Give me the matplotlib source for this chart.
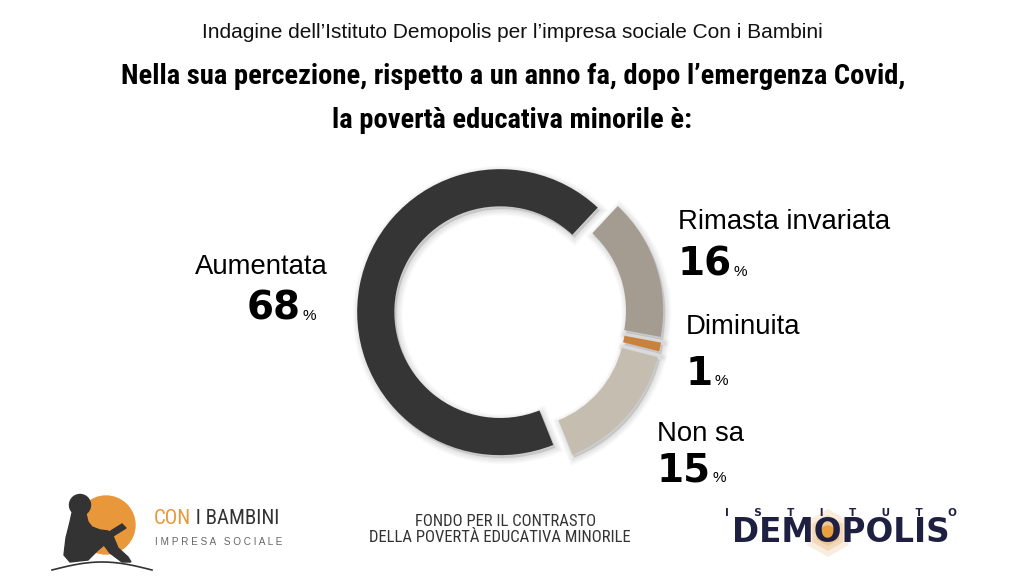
import matplotlib
matplotlib.use("Agg")
import matplotlib.pyplot as plt
import matplotlib.patches as mpatches
from matplotlib import font_manager
from matplotlib.font_manager import FontProperties
import numpy as np

# ---- data ----
categories = ["Rimasta invariata", "Diminuita", "Non sa", "Aumentata"]
values = [16, 1, 15, 68]
value_labels = ["16", "1", "15", "68"]
colors = ["#a49c90", "#c8823e", "#c5beb0", "#353535"]

subtitle = "Indagine dell\u2019Istituto Demopolis per l\u2019impresa sociale Con i Bambini"
title_lines = ["Nella sua percezione, rispetto a un anno fa, dopo l\u2019emergenza Covid,",
               "la povert\u00e0 educativa minorile \u00e8:"]
footer_lines = ["FONDO PER IL CONTRASTO", "DELLA POVERT\u00c0 EDUCATIVA MINORILE"]

avail = {f.name for f in font_manager.fontManager.ttflist}
def pick(*names):
    for n in names:
        if n in avail:
            return n
    return "DejaVu Sans"

SANS = pick("Liberation Sans", "Arimo", "DejaVu Sans")
NARROW = pick("Liberation Sans Narrow", "Roboto Condensed", "Open Sans Condensed", "Liberation Sans")
HEAVY = "DejaVu Sans"

W, H = 1024, 576
fig = plt.figure(figsize=(W / 100, H / 100), dpi=100)
fig.patch.set_facecolor("white")

ov = fig.add_axes([0, 0, 1, 1])
ov.set_xlim(0, W)
ov.set_ylim(H, 0)
ov.axis("off")

# ---- donut ----
cx, cy, R = 510, 314, 143
half = 200
pax = fig.add_axes([(cx - half) / W, (H - cy - half) / H, 2 * half / W, 2 * half / H])
explode = [0.075, 0.075, 0.085, 0.07]
wedges, _ = pax.pie(values, colors=colors, startangle=47, counterclock=False,
                    explode=explode, radius=1.0,
                    wedgeprops=dict(width=0.26, linewidth=0))
for w in wedges:
    w.set_zorder(3)
    for k in range(1, 7):
        s = mpatches.Shadow(w, 0.01, -0.014, facecolor="#000000", edgecolor="#000000",
                            linewidth=k * 1.5, alpha=0.018, zorder=1)
        pax.add_patch(s)
lim = half / R
pax.set_xlim(-lim, lim)
pax.set_ylim(-lim, lim)
pax.set_aspect("equal")
pax.axis("off")

# ---- titles ----
ov.text(512, 32, subtitle, ha="center", va="center", fontsize=15,
        family=SANS, color="#111111")
ov.text(513, 76, title_lines[0], ha="center", va="center", fontsize=20.5,
        family=NARROW, weight="bold", color="#000000")
ov.text(512, 120, title_lines[1], ha="center", va="center", fontsize=20.5,
        family=NARROW, weight="bold", color="#000000")

# ---- labels ----
label_pos = {
    "Rimasta invariata": (678, 222, "left"),
    "Diminuita": (686, 327, "left"),
    "Non sa": (657, 434, "left"),
    "Aumentata": (328, 267, "right"),
}
value_pos = {
    "Rimasta invariata": (678, 276),
    "Diminuita": (686, 385),
    "Non sa": (657, 482),
    "Aumentata": (247, 320),
}
num_texts = []
for cat, vl in zip(categories, value_labels):
    x, y, ha = label_pos[cat]
    ov.text(x, y, cat, ha=ha, va="center", fontsize=19.8, family=SANS, color="#000000")
    vx, vy = value_pos[cat]
    t = ov.text(vx, vy, vl, ha="left", va="baseline", fontsize=28, family=HEAVY,
                weight="heavy", color="#000000")
    num_texts.append((t, vy))

fig.canvas.draw()
inv = ov.transData.inverted()
for t, vy in num_texts:
    bb = t.get_window_extent()
    xr = inv.transform((bb.x1, bb.y0))[0]
    ov.text(xr + 1.5, vy, "%", ha="left", va="baseline", fontsize=11, family=SANS,
            color="#000000")

# ---- footer ----
ov.text(506, 521, footer_lines[0], ha="center", va="center", fontsize=12,
        family=NARROW, color="#333333")
ov.text(500, 538, footer_lines[1], ha="center", va="center", fontsize=12,
        family=NARROW, color="#333333")

# Con i Bambini logo
dark = "#333333"
ov.add_patch(mpatches.Circle((106, 525), 29, color="#e8973a", zorder=2))
ov.add_patch(mpatches.Ellipse((80, 505), 21, 21, color=dark, zorder=3))
body = [(72, 513), (86, 514), (88, 522), (92, 527), (100, 530), (108, 531),
        (113, 536), (118, 548), (128, 557), (131, 562), (122, 562), (110, 553),
        (104, 545), (98, 550), (88, 560), (70, 562), (64, 555), (66, 538), (70, 522)]
ov.add_patch(mpatches.Polygon(body, closed=True, color=dark, zorder=3))
book = [(106, 534), (122, 524), (126, 528), (110, 538)]
ov.add_patch(mpatches.Polygon(book, closed=True, color=dark, zorder=3))
tt = np.linspace(0, 1, 50)
ov.plot(52 + 100 * tt, 570 - 8 * np.sin(np.pi * tt), color=dark, lw=1.2, zorder=3)
t1 = ov.text(154, 519, "CON", ha="left", va="center", fontsize=15, family=NARROW,
             color="#e8973a")
ov.annotate(" I BAMBINI", xycoords=t1, xy=(1, 0.5), xytext=(0, 0), textcoords="offset points",
            ha="left", va="center", fontsize=15, family=NARROW, color="#333333")
ov.text(155, 542, "I M P R E S A   S O C I A L E", ha="left", va="center", fontsize=7.2,
        family=SANS, color="#666666")

# Demopolis logo
navy = "#1f2041"
demo_fs = 23.5
fp = FontProperties(family=HEAVY, weight="heavy", size=demo_fs)
rend = fig.canvas.get_renderer()
w_all = rend.get_text_width_height_descent("DEMOPOLIS", fp, ismath=False)[0]
w_dem = rend.get_text_width_height_descent("DEM", fp, ismath=False)[0]
w_o = rend.get_text_width_height_descent("O", fp, ismath=False)[0]
dcx = 841
ox = dcx - w_all / 2 + w_dem + w_o / 2
oy = 533
ang = np.linspace(0, 2 * np.pi, 7)[:-1] + np.pi / 6
for rr, a in [(24, 0.22), (18, 0.32), (13, 0.45)]:
    ov.add_patch(mpatches.Polygon(np.c_[ox + rr * np.cos(ang), oy + rr * np.sin(ang)],
                                  closed=True, color="#e8b070", alpha=a, lw=0, zorder=2))
ov.add_patch(mpatches.Circle((ox, oy), 7, color="#e8a040", zorder=2))
ov.text(dcx, oy, "DEMOPOLIS", ha="center", va="center", fontsize=demo_fs, family=HEAVY,
        weight="heavy", color=navy, zorder=4)
ov.text(841, 513, "I       S       T       I       T       U       T       O",
        ha="center", va="center", fontsize=7.5, family=HEAVY, weight="bold", color=navy)

fig.savefig("out.png", dpi=100, facecolor="white")
